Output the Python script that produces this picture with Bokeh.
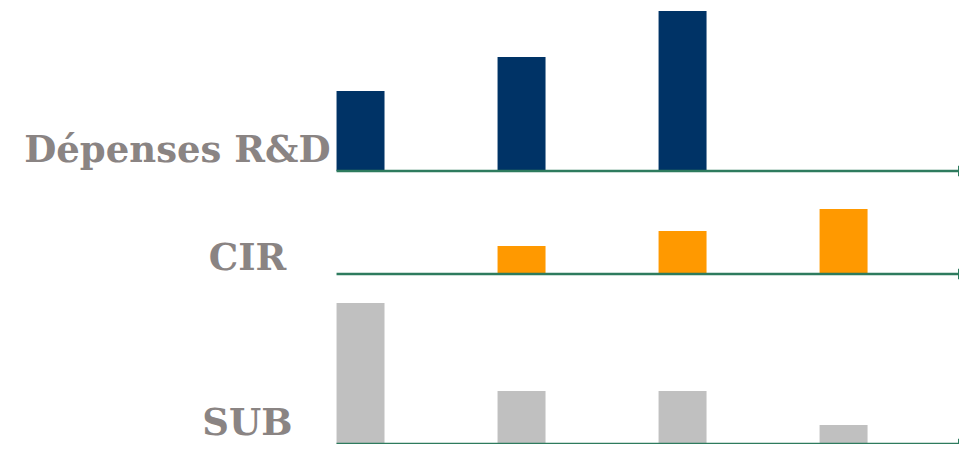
from bokeh.plotting import figure
from bokeh.models import Range1d, Label, Arrow, NormalHead, ColumnDataSource
from bokeh.layouts import column
from bokeh.embed import file_html
from bokeh.resources import INLINE

# Data
periods = [0, 1, 2, 3]
depenses_rd = [80, 114, 160, None]
cir = [None, 28, 43, 65]
sub = [141, 53, 53, 19]
row_labels = ["Dépenses R&D", "CIR", "SUB"]
row_colors = ["#003366", "#FF9900", "#C0C0C0"]

AXIS_COLOR = "#2E7B5E"
LABEL_COLOR = "#8A8483"
BAR_W = 0.298

W = 959
x_range = Range1d(-2.236, 3.720)

# (values, label, color, height, y_start, y_end, label_x, label_y, align)
rows = [
    (depenses_rd, row_labels[0], row_colors[0], 180, -9.5, 170.5, 330, 31.5, "right"),
    (cir, row_labels[1], row_colors[1], 103, -9.5, 93.5, 247, 26.5, "center"),
    (sub, row_labels[2], row_colors[2], 161, -0.5, 160.5, 247, 23, "center"),
]

figs = []
for vals, lab, col, h, y0, y1, lx, ly, al in rows:
    p = figure(width=W, height=h, x_range=x_range, y_range=Range1d(y0, y1),
               output_backend="svg", toolbar_location=None,
               x_axis_location=None, y_axis_location=None,
               min_border=0, outline_line_color=None,
               background_fill_color="white", border_fill_color="white")
    p.grid.visible = False
    xs = [x for x, v in zip(periods, vals) if v is not None]
    ts = [v for v in vals if v is not None]
    src = ColumnDataSource(dict(x=xs, top=ts))
    p.vbar(x="x", top="top", bottom=0, width=BAR_W, source=src,
           fill_color=col, line_color=None)
    p.add_layout(Arrow(x_start=-BAR_W / 2, y_start=0, x_end=3.776, y_end=0,
                       line_color=AXIS_COLOR, line_width=2.5,
                       end=NormalHead(size=10, fill_color=AXIS_COLOR,
                                      line_color=AXIS_COLOR, line_width=1)))
    p.add_layout(Label(x=lx, y=ly, x_units="screen", y_units="screen",
                       text=lab, text_font="DejaVu Serif", text_font_style="bold",
                       text_font_size="37px", text_color=LABEL_COLOR,
                       text_align=al, text_baseline="middle"))
    figs.append(p)

layout = column(*figs, spacing=0)
open("out.html", "w").write(file_html(layout, INLINE))
